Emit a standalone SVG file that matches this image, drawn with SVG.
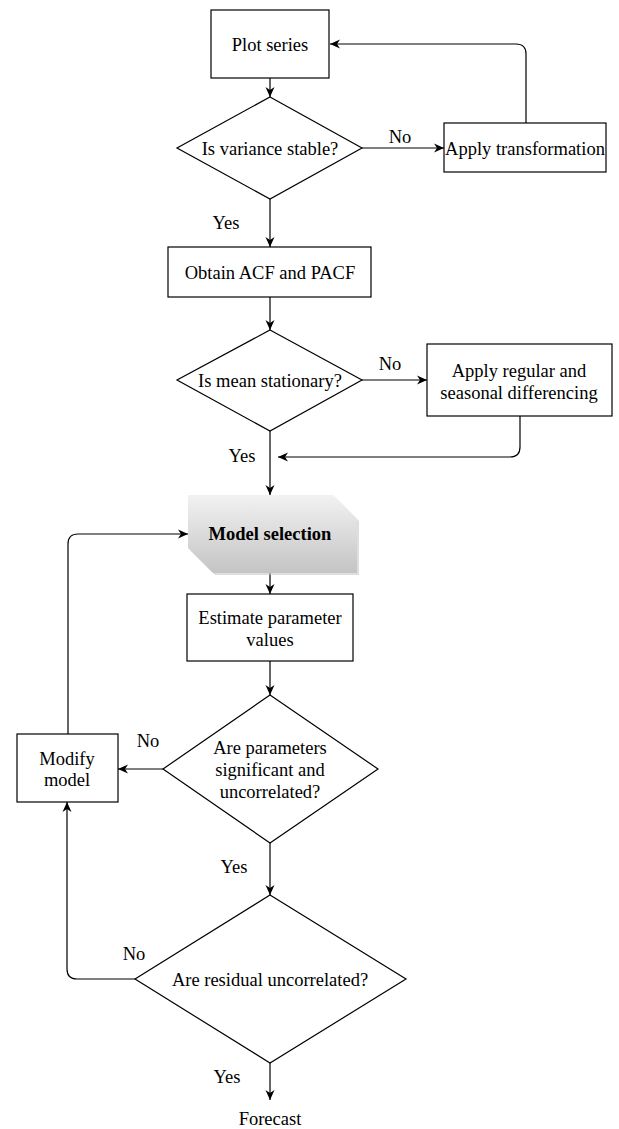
<svg xmlns="http://www.w3.org/2000/svg" width="619" height="1129" viewBox="0 0 619 1129">
<style>
.box{fill:#fff;stroke:#000;stroke-width:1.2}
.t{font-family:"Liberation Serif","Times New Roman",serif;font-size:18.5px;fill:#000;text-anchor:middle}
.b{font-weight:bold}
.edge{fill:none;stroke:#000;stroke-width:1.2}
</style>
<defs>
<marker id="arr" markerUnits="userSpaceOnUse" markerWidth="12" markerHeight="10" refX="10" refY="5" orient="auto">
<path d="M0,0.5 L10,5 L0,9.5 L3,5 Z" fill="#000"/>
</marker>
<linearGradient id="g" x1="0" y1="0" x2="0" y2="1">
<stop offset="0" stop-color="#f2f2f2"/>
<stop offset="1" stop-color="#c4c4c4"/>
</linearGradient>
</defs>
<rect width="619" height="1129" fill="#fff"/>
<g id="connectors">
<path class="edge" d="M270,78 V97" marker-end="url(#arr)"/>
<path class="edge" d="M362,148 H444" marker-end="url(#arr)"/>
<path class="edge" d="M526,123 V54 Q526,44 516,44 H330" marker-end="url(#arr)"/>
<path class="edge" d="M270,199 V247" marker-end="url(#arr)"/>
<path class="edge" d="M270,297 V330" marker-end="url(#arr)"/>
<path class="edge" d="M362,380 H427" marker-end="url(#arr)"/>
<path class="edge" d="M520,416 V447 Q520,457 510,457 H278" marker-end="url(#arr)"/>
<path class="edge" d="M270,431 V495" marker-end="url(#arr)"/>
<path class="edge" d="M270,573 V594" marker-end="url(#arr)"/>
<path class="edge" d="M270,661 V695" marker-end="url(#arr)"/>
<path class="edge" d="M163,769 H118" marker-end="url(#arr)"/>
<path class="edge" d="M68,734 V544 Q68,534 78,534 H188" marker-end="url(#arr)"/>
<path class="edge" d="M270,843 V895" marker-end="url(#arr)"/>
<path class="edge" d="M135,979 H77 Q67,979 67,969 V802" marker-end="url(#arr)"/>
<path class="edge" d="M270,1063 V1100" marker-end="url(#arr)"/>
</g>
<g id="labels">
<text class="t" x="400" y="143">No</text>
<text class="t" x="226" y="229">Yes</text>
<text class="t" x="390" y="370">No</text>
<text class="t" x="242" y="462">Yes</text>
<text class="t" x="148" y="747">No</text>
<text class="t" x="234" y="873">Yes</text>
<text class="t" x="134" y="960">No</text>
<text class="t" x="227" y="1083">Yes</text>
</g>
<g id="plot-series">
<rect class="box" x="211" y="10" width="118" height="68"/>
<text class="t" x="270" y="51">Plot series</text>
</g>
<g id="variance-stable">
<path class="box" d="M270,97 L362,148 L270,199 L177,148 Z"/>
<text class="t" x="270" y="155">Is variance stable?</text>
</g>
<g id="apply-transformation">
<rect class="box" x="444" y="123" width="162" height="49"/>
<text class="t" x="525" y="155">Apply transformation</text>
</g>
<g id="obtain-acf">
<rect class="box" x="168" y="247" width="203" height="50"/>
<text class="t" x="270" y="279">Obtain ACF and PACF</text>
</g>
<g id="mean-stationary">
<path class="box" d="M270,330 L362,380 L270,431 L177,380 Z"/>
<text class="t" x="270" y="387">Is mean stationary?</text>
</g>
<g id="apply-differencing">
<rect class="box" x="427" y="344" width="185" height="72"/>
<text class="t" x="519" y="377">Apply regular and</text>
<text class="t" x="519" y="399">seasonal differencing</text>
</g>
<g id="model-selection">
<path d="M191,497 H335 L359,521 V575 H215 L191,551 Z" fill="#c8c8c8" opacity="0.6"/>
<path d="M188,495 H333 L357,519 V573 H213 L188,548 Z" fill="url(#g)"/>
<text class="t b" x="270" y="540">Model selection</text>
</g>
<g id="estimate">
<rect class="box" x="187" y="594" width="166" height="67"/>
<text class="t" x="270" y="624">Estimate parameter</text>
<text class="t" x="270" y="646">values</text>
</g>
<g id="params-significant">
<path class="box" d="M270,695 L378,769 L270,843 L163,769 Z"/>
<text class="t" x="270" y="754">Are parameters</text>
<text class="t" x="270" y="776">significant and</text>
<text class="t" x="270" y="798">uncorrelated?</text>
</g>
<g id="modify-model">
<rect class="box" x="17" y="734" width="101" height="68"/>
<text class="t" x="67" y="765">Modify</text>
<text class="t" x="67" y="786">model</text>
</g>
<g id="residual-uncorrelated">
<path class="box" d="M270,895 L406,979 L270,1063 L135,979 Z"/>
<text class="t" x="270" y="986">Are residual uncorrelated?</text>
</g>
<g id="forecast">
<text class="t" x="270" y="1125">Forecast</text>
</g>
</svg>
